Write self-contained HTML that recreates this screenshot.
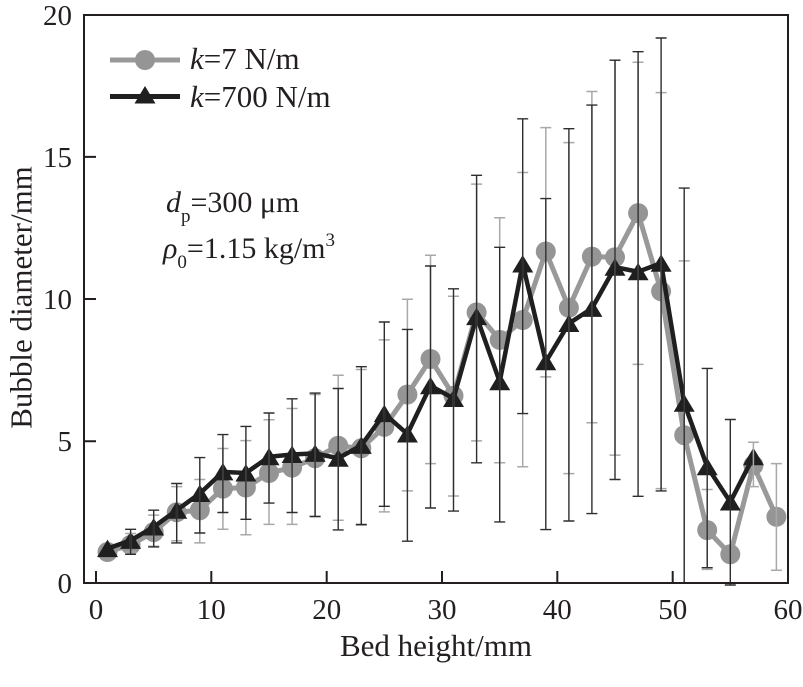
<!DOCTYPE html>
<html>
<head>
<meta charset="utf-8">
<style>
html,body{margin:0;padding:0;background:#fff;}
svg{display:block;}
text{font-family:"Liberation Serif","Times New Roman",serif;fill:#231f20;}
</style>
</head>
<body>
<svg width="803" height="687" viewBox="0 0 803 687" xmlns="http://www.w3.org/2000/svg">
<defs>
<polygon id="t" points="0,-9 -10.5,8.5 10.5,8.5" fill="#1f1f1f"/>
</defs>
<rect width="803" height="687" fill="#fff"/>

<!-- gray series -->
<polyline fill="none" stroke="#999999" stroke-width="5" stroke-linejoin="round" points="107.5,552 130.6,544.9 153.7,532.1 176.7,512.2 199.8,510.2 222.9,488.6 245.9,487.5 269,473 292.1,467.6 315.1,458.2 338.2,445.7 361.3,448.3 384.3,426.9 407.4,394.5 430.5,359 453.5,395.7 476.6,312.4 499.7,339.9 522.7,320 545.8,251.5 568.9,307.8 591.9,256.6 615,257.2 638.1,213.1 661.1,291.3 684.2,435.2 707.2,530.1 730.3,554.3 753.4,465.3 776.4,516.8"/>
<g fill="#959595">
<circle cx="107.5" cy="552" r="10"/><circle cx="130.6" cy="544.9" r="10"/><circle cx="153.7" cy="532.1" r="10"/><circle cx="176.7" cy="512.2" r="10"/><circle cx="199.8" cy="510.2" r="10"/><circle cx="222.9" cy="488.6" r="10"/><circle cx="245.9" cy="487.5" r="10"/><circle cx="269" cy="473" r="10"/><circle cx="292.1" cy="467.6" r="10"/><circle cx="315.1" cy="458.2" r="10"/><circle cx="338.2" cy="445.7" r="10"/><circle cx="361.3" cy="448.3" r="10"/><circle cx="384.3" cy="426.9" r="10"/><circle cx="407.4" cy="394.5" r="10"/><circle cx="430.5" cy="359" r="10"/><circle cx="453.5" cy="395.7" r="10"/><circle cx="476.6" cy="312.4" r="10"/><circle cx="499.7" cy="339.9" r="10"/><circle cx="522.7" cy="320" r="10"/><circle cx="545.8" cy="251.5" r="10"/><circle cx="568.9" cy="307.8" r="10"/><circle cx="591.9" cy="256.6" r="10"/><circle cx="615" cy="257.2" r="10"/><circle cx="638.1" cy="213.1" r="10"/><circle cx="661.1" cy="291.3" r="10"/><circle cx="684.2" cy="435.2" r="10"/><circle cx="707.2" cy="530.1" r="10"/><circle cx="730.3" cy="554.3" r="10"/><circle cx="753.4" cy="465.3" r="10"/><circle cx="776.4" cy="516.8" r="10"/>
</g>

<!-- black series -->
<polyline fill="none" stroke="#1f1f1f" stroke-width="4.5" stroke-linejoin="miter" points="107.5,548.6 130.6,540.4 153.7,527 176.7,510.2 199.8,493.5 222.9,471.9 245.9,473 269,456.8 292.1,454.5 315.1,453.4 338.2,458.2 361.3,445.4 384.3,413.6 407.4,434 430.5,385.7 453.5,398.5 476.6,316.6 499.7,381.7 522.7,264 545.8,361.8 568.9,323.5 591.9,308.4 615,267.2 638.1,271.7 661.1,263.2 684.2,403.3 707.2,466.7 730.3,502 753.4,456.8"/>
<use href="#t" x="107.5" y="548.6"/><use href="#t" x="130.6" y="540.4"/><use href="#t" x="153.7" y="527"/><use href="#t" x="176.7" y="510.2"/><use href="#t" x="199.8" y="493.5"/><use href="#t" x="222.9" y="471.9"/><use href="#t" x="245.9" y="473"/><use href="#t" x="269" y="456.8"/><use href="#t" x="292.1" y="454.5"/><use href="#t" x="315.1" y="453.4"/><use href="#t" x="338.2" y="458.2"/><use href="#t" x="361.3" y="445.4"/><use href="#t" x="384.3" y="413.6"/><use href="#t" x="407.4" y="434"/><use href="#t" x="430.5" y="385.7"/><use href="#t" x="453.5" y="398.5"/><use href="#t" x="476.6" y="316.6"/><use href="#t" x="499.7" y="381.7"/><use href="#t" x="522.7" y="264"/><use href="#t" x="545.8" y="361.8"/><use href="#t" x="568.9" y="323.5"/><use href="#t" x="591.9" y="308.4"/><use href="#t" x="615" y="267.2"/><use href="#t" x="638.1" y="271.7"/><use href="#t" x="661.1" y="263.2"/><use href="#t" x="684.2" y="403.3"/><use href="#t" x="707.2" y="466.7"/><use href="#t" x="730.3" y="502"/><use href="#t" x="753.4" y="456.8"/>

<!-- gray error bars -->
<path fill="none" stroke="#a8a8a8" stroke-width="1.5" d="M130.6 552V533.5M125.1 552h11M125.1 533.5h11
M153.7 546.3V515.1M148.2 546.3h11M148.2 515.1h11
M176.7 540.7V486.6M171.2 540.7h11M171.2 486.6h11
M199.8 542.9V479.5M194.3 542.9h11M194.3 479.5h11
M222.9 529.3V448.5M217.4 529.3h11M217.4 448.5h11
M245.9 534.7V440.6M240.4 534.7h11M240.4 440.6h11
M269 524.4V419.8M263.5 524.4h11M263.5 419.8h11
M292.1 524.4V408.5M286.6 524.4h11M286.6 408.5h11
M315.1 516.5V394.5M309.6 516.5h11M309.6 394.5h11
M338.2 520.2V375.2M332.7 520.2h11M332.7 375.2h11
M361.3 525.3V369.5M355.8 525.3h11M355.8 369.5h11
M384.3 511.9V339.9M378.8 511.9h11M378.8 339.9h11
M407.4 490.9V299.3M401.9 490.9h11M401.9 299.3h11
M430.5 463.6V255.2M425 463.6h11M425 255.2h11
M453.5 496V296.2M448 496h11M448 296.2h11
M476.6 440.9V184.1M471.1 440.9h11M471.1 184.1h11
M499.7 462.8V217.7M494.2 462.8h11M494.2 217.7h11
M522.7 466.7V172.5M517.2 466.7h11M517.2 172.5h11
M545.8 376.9V127.6M540.3 376.9h11M540.3 127.6h11
M568.9 473.6V142.6M563.4 473.6h11M563.4 142.6h11
M591.9 422.7V91.5M586.4 422.7h11M586.4 91.5h11
M615 455.1V60.2M609.5 455.1h11M609.5 60.2h11
M638.1 364.4V62.2M632.6 364.4h11M632.6 62.2h11
M661.1 488.6V92.6M655.6 488.6h11M655.6 92.6h11
M684.2 583V260.9M678.7 260.9h11
M707.2 569.4V489.5M701.7 569.4h11M701.7 489.5h11
M753.4 486.6V442.3M747.9 486.6h11M747.9 442.3h11
M776.4 570.2V463.6M770.9 570.2h11M770.9 463.6h11"/>

<!-- black error bars -->
<path fill="none" stroke="#2e2e2e" stroke-width="1.4" d="M130.6 554.3V529.3M125.1 554.3h11M125.1 529.3h11
M153.7 546.9V510.2M148.2 546.9h11M148.2 510.2h11
M176.7 542.9V483.5M171.2 542.9h11M171.2 483.5h11
M199.8 533V457.6M194.3 533h11M194.3 457.6h11
M222.9 512.5V434.6M217.4 512.5h11M217.4 434.6h11
M245.9 519.3V426.4M240.4 519.3h11M240.4 426.4h11
M269 503.1V413M263.5 503.1h11M263.5 413h11
M292.1 512.5V398.8M286.6 512.5h11M286.6 398.8h11
M315.1 516.5V393.1M309.6 516.5h11M309.6 393.1h11
M338.2 529.9V388.5M332.7 529.9h11M332.7 388.5h11
M361.3 524.4V366.7M355.8 524.4h11M355.8 366.7h11
M384.3 506.3V322M378.8 506.3h11M378.8 322h11
M407.4 541.2V329.4M401.9 541.2h11M401.9 329.4h11
M430.5 508V266M425 508h11M425 266h11
M453.5 511.1V288.8M448 511.1h11M448 288.8h11
M476.6 462.8V175.3M471.1 462.8h11M471.1 175.3h11
M499.7 521.9V247.3M494.2 521.9h11M494.2 247.3h11
M522.7 413.6V118.8M517.2 413.6h11M517.2 118.8h11
M545.8 529.6V198.6M540.3 529.6h11M540.3 198.6h11
M568.9 521V128.7M563.4 521h11M563.4 128.7h11
M591.9 513.6V105.1M586.4 513.6h11M586.4 105.1h11
M615 479.5V60.2M609.5 479.5h11M609.5 60.2h11
M638.1 496.3V51.7M632.6 496.3h11M632.6 51.7h11
M661.1 490.9V38M655.6 490.9h11M655.6 38h11
M684.2 583V188.1M678.7 188.1h11
M707.2 567.7V368.4M701.7 567.7h11M701.7 368.4h11
M730.3 585V419.5M724.8 585h11M724.8 419.5h11"/>

<!-- axes frame -->
<rect x="84" y="15" width="704" height="568" fill="none" stroke="#231f20" stroke-width="2"/>
<path fill="none" stroke="#231f20" stroke-width="2" d="M84 441.2h12M84 299h12M84 156.9h12M96 583v-12M211.3 583v-12M326.7 583v-12M442 583v-12M557.3 583v-12M672.7 583v-12"/>

<!-- y tick labels -->
<g font-size="29" text-anchor="end">
<text x="72" y="593">0</text>
<text x="72" y="451">5</text>
<text x="72" y="309">10</text>
<text x="72" y="167">15</text>
<text x="72" y="25">20</text>
</g>
<!-- x tick labels -->
<g font-size="29" text-anchor="middle">
<text x="96" y="619">0</text>
<text x="211.3" y="619">10</text>
<text x="326.7" y="619">20</text>
<text x="442" y="619">30</text>
<text x="557.3" y="619">40</text>
<text x="672.7" y="619">50</text>
<text x="788" y="619">60</text>
</g>

<!-- axis titles -->
<text x="436" y="656" font-size="31" text-anchor="middle">Bed height/mm</text>
<text transform="translate(31.5,297.5) rotate(-90)" x="0" y="0" font-size="31" text-anchor="middle">Bubble diameter/mm</text>

<!-- legend -->
<line x1="110" y1="60" x2="180" y2="60" stroke="#999999" stroke-width="5"/>
<circle cx="145" cy="60" r="10" fill="#959595"/>
<text x="190" y="69" font-size="31"><tspan font-style="italic">k</tspan>=7 N/m</text>
<line x1="110" y1="96.5" x2="180" y2="96.5" stroke="#1f1f1f" stroke-width="5"/>
<use href="#t" x="145" y="95"/>
<text x="190" y="107" font-size="31"><tspan font-style="italic">k</tspan>=700 N/m</text>

<!-- annotation -->
<text x="166" y="212" font-size="30"><tspan font-style="italic">d</tspan><tspan font-size="19" dy="10">p</tspan><tspan dy="-10">=300 μm</tspan></text>
<text x="163" y="258" font-size="30"><tspan font-style="italic">ρ</tspan><tspan font-size="19" dy="10">0</tspan><tspan dy="-10">=1.15 kg/m</tspan><tspan font-size="19" dy="-12">3</tspan></text>
</svg>
</body>
</html>
